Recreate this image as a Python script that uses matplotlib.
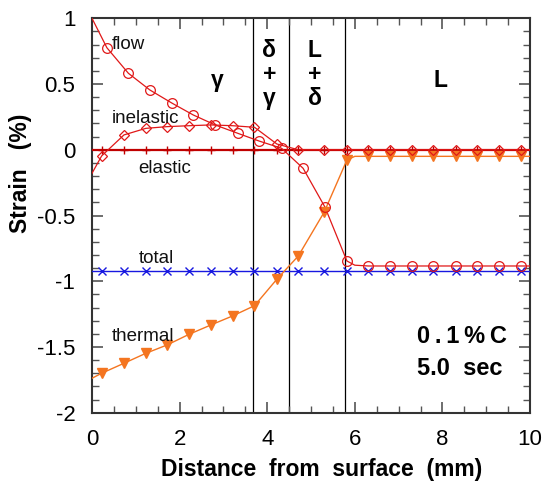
import matplotlib
matplotlib.use("Agg")
import matplotlib.pyplot as plt
from matplotlib.ticker import MultipleLocator

plt.rcParams['font.family'] = ['Liberation Sans', 'DejaVu Sans']

# ---- data ----
flow_x = [0.0, 0.34, 0.83, 1.32, 1.83, 2.31, 2.81, 3.33, 3.81, 4.33, 4.82, 5.32, 5.82, 6.0,
          6.31, 6.80, 7.30, 7.79, 8.30, 8.80, 9.29, 9.79, 10.0]
flow_y = [1.0, 0.776, 0.582, 0.455, 0.354, 0.265, 0.189, 0.125, 0.067, 0.011, -0.141, -0.437,
          -0.846, -0.878, -0.884, -0.884, -0.884, -0.884, -0.884, -0.884, -0.884, -0.884, -0.884]
flow_mark_x = [0.34, 0.83, 1.32, 1.83, 2.31, 2.81, 3.33, 3.81, 4.33, 4.82, 5.32, 5.82,
               6.31, 6.80, 7.30, 7.79, 8.30, 8.80, 9.29, 9.79]

node_x = [0.22, 0.73, 1.23, 1.72, 2.22, 2.72, 3.21, 3.71, 4.22, 4.71, 5.30, 5.82,
          6.31, 6.80, 7.30, 7.79, 8.30, 8.80, 9.29, 9.79]

inel_x = [0.0] + node_x + [10.0]
inel_y = [-0.179, -0.047, 0.113, 0.163, 0.176, 0.183, 0.189, 0.183, 0.171, 0.044, 0.0,
          0.0, 0.0, 0.0, 0.0, 0.0, 0.0, 0.0, 0.0, 0.0, 0.0, 0.0]

elas_x = [0.0] + node_x + [10.0]
elas_y = [0.0] * len(elas_x)

total_x = [0.0] + node_x + [10.0]
total_y = [-0.925] * len(total_x)

therm_x = [0.0, 0.22, 0.73, 1.23, 1.72, 2.22, 2.72, 3.21, 3.71, 4.22, 4.71, 5.30, 5.82, 6.0,
           6.31, 6.80, 7.30, 7.79, 8.30, 8.80, 9.29, 9.79, 10.0]
therm_y = [-1.738, -1.70, -1.624, -1.548, -1.484, -1.403, -1.332, -1.264, -1.186, -0.985,
           -0.808, -0.475, -0.078, -0.05, -0.05, -0.05, -0.05, -0.05, -0.05, -0.05, -0.05,
           -0.05, -0.05]

phase_bounds = [3.68, 4.50, 5.77]
phase_labels = ["γ", "δ\n+\nγ", "L\n+\nδ", "L"]
phase_label_x = [2.86, 4.05, 5.09, 7.95]
phase_label_y = [0.53, 0.57, 0.57, 0.53]

curve_names = ["flow", "inelastic", "elastic", "total", "thermal"]
curve_name_x = [0.46, 0.45, 1.06, 1.06, 0.45]
curve_name_y = [0.80, 0.235, -0.142, -0.83, -1.42]

x_ticks = [0, 2, 4, 6, 8, 10]
y_ticks = [1, 0.5, 0, -0.5, -1, -1.5, -2]
y_tick_labels = ["1", "0.5", "0", "-0.5", "-1", "-1.5", "-2"]

RED = "#e01818"
DRED = "#c00000"
ORANGE = "#f47520"
BLUE = "#1818e0"

fig = plt.figure(figsize=(5.45, 4.83), dpi=100)
ax = fig.add_axes([92/545, 1-412.7/483, (530-92)/545, (412.7-18.3)/483])

# phase boundaries
for xb in phase_bounds:
    ax.axvline(xb, color="black", lw=0.9, zorder=1)

# elastic
ax.plot(elas_x, elas_y, color=DRED, lw=1.6, zorder=3)
ax.plot(elas_x[1:-1], elas_y[1:-1], ls="none", marker="+", ms=6, mew=1.0, color=DRED, zorder=4)

# total
ax.plot(total_x, total_y, color=BLUE, lw=1.0, zorder=3)
ax.plot(total_x[1:-1], total_y[1:-1], ls="none", marker="x", ms=5.5, mew=1.0, color=BLUE, zorder=4)

# thermal
ax.plot(therm_x, therm_y, color=ORANGE, lw=1.0, zorder=3)
tmx = [x for x in therm_x if x not in (0.0, 6.0, 10.0)]
tmy = [y for x, y in zip(therm_x, therm_y) if x not in (0.0, 6.0, 10.0)]
ax.plot(tmx, tmy, ls="none", marker="v", ms=6.5, color=ORANGE, zorder=4)

# inelastic
ax.plot(inel_x, inel_y, color=RED, lw=0.9, zorder=3)
ax.plot(inel_x[1:-1], inel_y[1:-1], ls="none", marker="D", ms=5, mfc="none", mew=0.9,
        color=RED, zorder=5)

# flow
ax.plot(flow_x, flow_y, color=RED, lw=0.9, zorder=3)
fmy = [y for x, y in zip(flow_x, flow_y) if x in flow_mark_x]
ax.plot(flow_mark_x, fmy, ls="none", marker="o", ms=7, mfc="none", mew=0.9, color=RED, zorder=5)

for name, tx, ty in zip(curve_names, curve_name_x, curve_name_y):
    ax.text(tx, ty, name, fontsize=13.5, ha="left", va="center", color="#111111", zorder=6)

for lab, tx, ty in zip(phase_labels, phase_label_x, phase_label_y):
    ax.text(tx, ty, lab, fontsize=16.5, fontweight="bold", ha="center", va="center",
            linespacing=1.05, zorder=6)

ax.text(7.41, -1.42, "0\u2009.\u20091\u2009%\u2009C", fontsize=17, fontweight="bold",
        ha="left", va="center")
ax.text(7.41, -1.66, "5.0  sec", fontsize=17, fontweight="bold", ha="left", va="center")

ax.set_xlim(0, 10)
ax.set_ylim(-2, 1)
ax.set_xticks(x_ticks)
ax.set_xticklabels([str(t) for t in x_ticks])
ax.set_yticks(y_ticks)
ax.set_yticklabels(y_tick_labels)
ax.xaxis.set_minor_locator(MultipleLocator(0.5))
ax.yaxis.set_minor_locator(MultipleLocator(0.1))
ax.tick_params(which="both", direction="in", top=True, right=True, color="#555555")
ax.tick_params(which="major", length=8, width=1.2, labelsize=16)
ax.tick_params(axis="x", which="major", pad=12)
ax.tick_params(axis="y", which="major", pad=12)
ax.tick_params(which="minor", length=5, width=1.0)
for sp in ax.spines.values():
    sp.set_linewidth(1.5)
    sp.set_color("#333333")

fig.text(321.5/545, 1-476/483, "Distance  from  surface  (mm)", fontsize=16.5, fontweight="bold",
         ha="center", va="baseline")
fig.text(20.5/545, 1-173/483, "Strain   (%)", fontsize=16.5, fontweight="bold",
         ha="center", va="center", rotation=90)

fig.savefig("out.png", dpi=100)
